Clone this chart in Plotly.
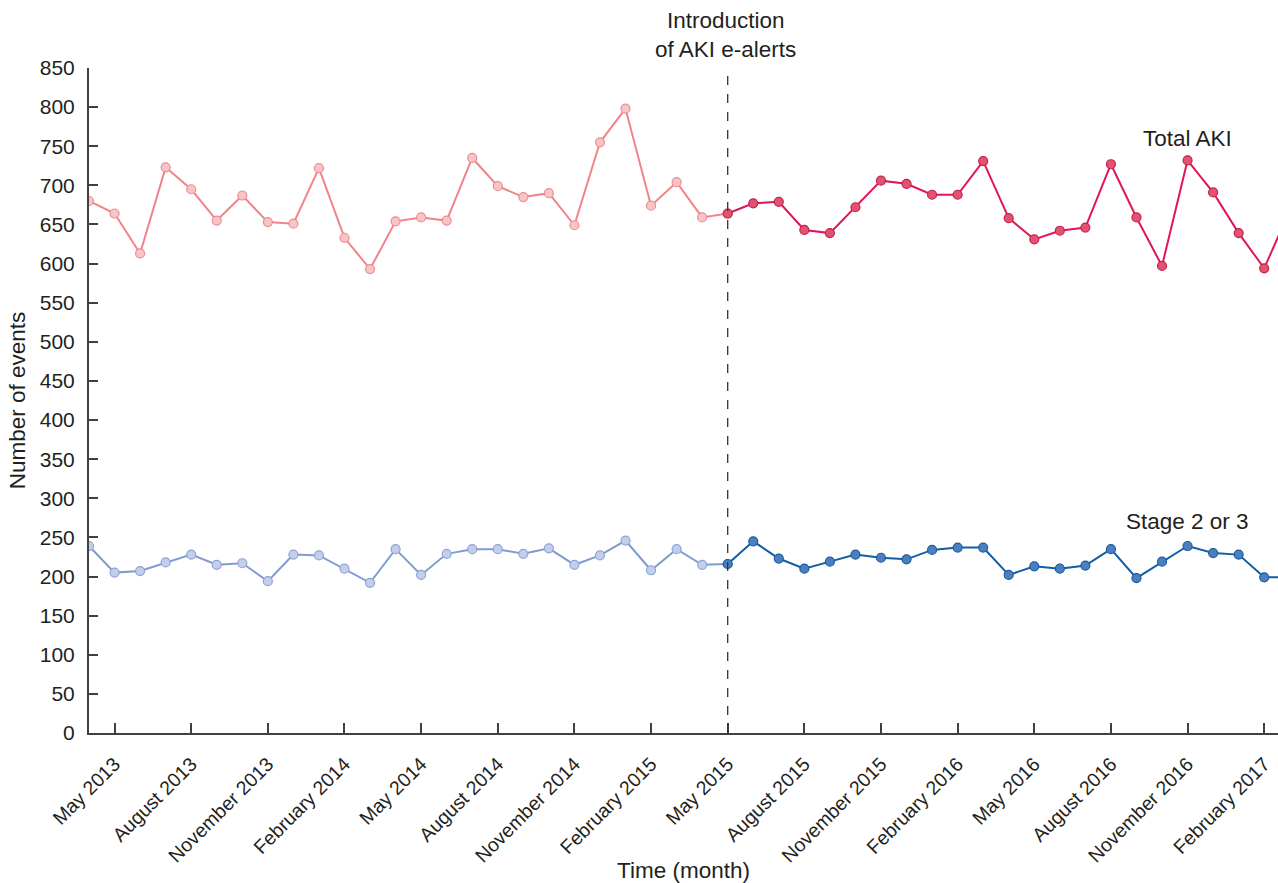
import plotly.graph_objects as go

months = ["April 2013", "May 2013", "June 2013", "July 2013", "August 2013", "September 2013",
          "October 2013", "November 2013", "December 2013", "January 2014", "February 2014",
          "March 2014", "April 2014", "May 2014", "June 2014", "July 2014", "August 2014",
          "September 2014", "October 2014", "November 2014", "December 2014", "January 2015",
          "February 2015", "March 2015", "April 2015", "May 2015", "June 2015", "July 2015",
          "August 2015", "September 2015", "October 2015", "November 2015", "December 2015",
          "January 2016", "February 2016", "March 2016", "April 2016", "May 2016", "June 2016",
          "July 2016", "August 2016", "September 2016", "October 2016", "November 2016",
          "December 2016", "January 2017", "February 2017", "March 2017"]

total_aki = [680, 664, 613, 723, 695, 655, 687, 653, 651, 722, 633, 593, 654, 659, 655, 735,
             699, 685, 690, 649, 755, 798, 674, 704, 659, 664, 677, 679, 643, 639, 672, 706,
             702, 688, 688, 731, 658, 631, 642, 646, 727, 659, 597, 732, 691, 639, 594, 668]

stage23 = [239, 205, 207, 218, 228, 215, 217, 194, 228, 227, 210, 192, 235, 202, 229, 235,
           235, 229, 236, 215, 227, 246, 208, 235, 215, 216, 245, 223, 210, 219, 228, 224,
           222, 234, 237, 237, 202, 213, 210, 214, 235, 198, 219, 239, 230, 228, 199, 199]

tick_labels = ["May 2013", "August 2013", "November 2013", "February 2014", "May 2014",
               "August 2014", "November 2014", "February 2015", "May 2015", "August 2015",
               "November 2015", "February 2016", "May 2016", "August 2016", "November 2016",
               "February 2017"]

intervention_label = "May 2015"

idx = list(range(len(months)))
cut = months.index(intervention_label)
tick_vals = [months.index(t) for t in tick_labels]

FONT = "Liberation Sans, Arial, sans-serif"
TXT = "#231f20"

fig = go.Figure()

def add(xs, ys, line_c, fill_c, edge_c):
    fig.add_trace(go.Scatter(
        x=xs, y=ys, mode="lines+markers",
        line=dict(color=line_c, width=2),
        marker=dict(size=9, color=fill_c, line=dict(color=edge_c, width=1.2)),
        showlegend=False, hoverinfo="skip"))

# pre-period (light)
add(idx[:cut + 1], total_aki[:cut + 1], "#f08488", "#f8c4c6", "#ee8c92")
add(idx[:cut + 1], stage23[:cut + 1], "#7f9bcf", "#c3cfea", "#8ea4d4")
# post-period (dark)
add(idx[cut:], total_aki[cut:], "#e0155a", "#e4526f", "#c0244d")
add(idx[cut:], stage23[cut:], "#0f5fa6", "#4d7fc0", "#1b5d9f")

fig.add_shape(type="line", x0=cut, x1=cut, y0=0, y1=852, xref="x", yref="y",
              line=dict(color="#333333", width=1.3, dash="dash"))

fig.add_annotation(x=cut - 0.1, y=1.0, xref="x", yref="paper", yanchor="bottom",
                   yshift=4, text="Introduction<br>of AKI e-alerts", showarrow=False,
                   font=dict(family=FONT, size=22.5, color=TXT), align="center")
fig.add_annotation(x=43, y=760, xref="x", yref="y", text="Total AKI", showarrow=False,
                   font=dict(family=FONT, size=22.5, color=TXT))
fig.add_annotation(x=43, y=270, xref="x", yref="y", text="Stage 2 or 3", showarrow=False,
                   font=dict(family=FONT, size=22.5, color=TXT))

fig.update_layout(
    width=1278, height=883,
    margin=dict(l=89, r=0, t=68, b=150, autoexpand=False),
    paper_bgcolor="white", plot_bgcolor="white",
    font=dict(family=FONT, color=TXT),
    xaxis=dict(range=[0, 46.54], tickmode="array", tickvals=tick_vals, ticktext=tick_labels,
               tickangle=-45, ticks="inside", ticklen=10, tickwidth=1.5, tickcolor="#404040",
               showline=True, linecolor="#404040", linewidth=2, showgrid=False, zeroline=False,
               automargin=False, tickfont=dict(size=19.5, color=TXT), ticklabelstandoff=10,
               title=dict(text="Time (month)", font=dict(size=22.5, color=TXT), standoff=12)),
    yaxis=dict(range=[0, 850], tickmode="linear", tick0=0, dtick=50,
               ticks="inside", ticklen=9, tickwidth=1.5, tickcolor="#404040",
               showline=True, linecolor="#404040", linewidth=2, showgrid=False, zeroline=False,
               automargin=False, tickfont=dict(size=21, color=TXT), ticklabelstandoff=8,
               title=dict(text="Number of events", font=dict(size=22.5, color=TXT), standoff=8)),
)

fig.write_html("out.html", config={"displayModeBar": False},
               post_script="document.body.style.margin='0';document.body.style.padding='0';")
